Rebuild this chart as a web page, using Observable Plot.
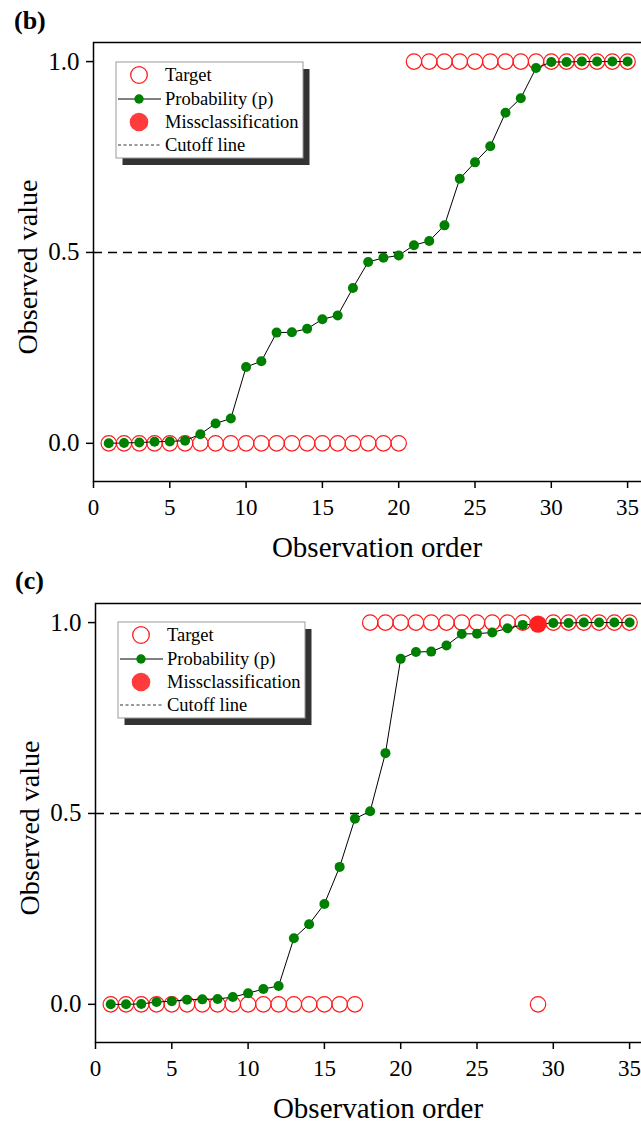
<!DOCTYPE html>
<html>
<head>
<meta charset="utf-8">
<script src="https://cdn.jsdelivr.net/npm/d3@7"></script>
<script src="https://cdn.jsdelivr.net/npm/@observablehq/plot@0.6"></script>
<style>
  html, body { margin: 0; padding: 0; background: #fff; }
  body { width: 641px; height: 1128px; overflow: hidden; position: relative; font-family: "Liberation Serif", serif; }
  .panel { position: absolute; left: 0; width: 660px; }
  .panel svg { max-width: none !important; }
  svg text { font-family: "Liberation Serif", serif !important; }
  #overlay { position: absolute; left: 0; top: 0; }
</style>
</head>
<body>
<div id="panelB" class="panel" style="top:0px"></div>
<div id="panelC" class="panel" style="top:561px"></div>
<svg id="overlay" width="641" height="1128"></svg>
<script>
// ---------- data ----------
const obsOrder = [1,2,3,4,5,6,7,8,9,10,11,12,13,14,15,16,17,18,19,20,21,22,23,24,25,26,27,28,29,30,31,32,33,34,35];

// Panel (b)
const targetB = [0,0,0,0,0,0,0,0,0,0,0,0,0,0,0,0,0,0,0,0,1,1,1,1,1,1,1,1,1,1,1,1,1,1,1];
const probB = [0.000,0.001,0.002,0.004,0.005,0.007,0.024,0.052,0.065,0.200,0.215,0.290,0.291,0.300,0.325,0.335,0.407,0.475,0.486,0.492,0.519,0.530,0.571,0.693,0.736,0.778,0.866,0.904,0.983,0.999,0.999,1.000,1.000,1.000,1.000];
const missOrderB = [];
const missValueB = [];

// Panel (c)
const targetC = [0,0,0,0,0,0,0,0,0,0,0,0,0,0,0,0,0,1,1,1,1,1,1,1,1,1,1,1,0,1,1,1,1,1,1];
const probC = [0.000,0.000,0.001,0.006,0.008,0.012,0.013,0.014,0.019,0.029,0.040,0.048,0.173,0.210,0.263,0.360,0.486,0.506,0.658,0.905,0.923,0.924,0.940,0.970,0.971,0.974,0.985,0.994,0.996,0.999,0.999,1.000,1.000,1.000,1.000];
const missOrderC = [29];
const missValueC = [0.996];

const cutoff = [0.5];
const xTicks = [0,5,10,15,20,25,30,35];
const yTicks = [0.0,0.5,1.0];
const xLabel = "Observation order";
const yLabel = "Observed value";
const legendLabels = ["Target","Probability (p)","Missclassification","Cutoff line"];
const panelLabels = ["(b)","(c)"];

// ---------- chart ----------
function makePanel(target, prob, missX, missY, marginLeft) {
  const rows = obsOrder.map((o, i) => ({o, t: target[i], p: prob[i]}));
  const miss = missX.map((o, i) => ({o, v: missY[i]}));
  const width = 660;
  const pxPerUnit = 15.26;
  const xMax = (width - marginLeft) / pxPerUnit;
  return Plot.plot({
    width,
    height: 566,
    marginLeft,
    marginRight: 0,
    marginTop: 42,
    marginBottom: 85,
    style: {fontFamily: "Liberation Serif, serif", color: "black", background: "transparent", overflow: "visible", maxWidth: "none"},
    x: {domain: [0, xMax]},
    y: {domain: [-0.1, 1.05]},
    marks: [
      Plot.ruleY(cutoff, {stroke: "black", strokeWidth: 1.5, strokeDasharray: "9,6"}),
      Plot.dot(rows, {x: "o", y: "t", r: 7.7, stroke: "#ff1a1a", strokeWidth: 1.2, fill: "none"}),
      Plot.line(rows, {x: "o", y: "p", stroke: "black", strokeWidth: 1}),
      Plot.dot(rows, {x: "o", y: "p", r: 5, fill: "#008000", stroke: "none"}),
      Plot.dot(miss, {x: "o", y: "v", r: 8.7, fill: "#ff2020", stroke: "none"}),
      Plot.frame({stroke: "black", strokeWidth: 1.5}),
      Plot.axisX({ticks: xTicks, tickSize: 7, tickPadding: 10, fontSize: 23, strokeWidth: 1.5, label: null, tickFormat: d3.format("d")}),
      Plot.axisY({ticks: yTicks, tickSize: 7, tickPadding: 7, fontSize: 25, strokeWidth: 1.5, label: null, tickFormat: d3.format(".1f")}),
      Plot.text([xLabel], {frameAnchor: "bottom", dy: 66, fontSize: 29, fill: "black", textAnchor: "middle", lineAnchor: "middle"}),
      Plot.text([yLabel], {frameAnchor: "left", dx: -65, dy: 5, rotate: -90, fontSize: 28, fill: "black", textAnchor: "middle", lineAnchor: "middle"})
    ]
  });
}

document.getElementById("panelB").append(makePanel(targetB, probB, missOrderB, missValueB, 93));
document.getElementById("panelC").append(makePanel(targetC, probC, missOrderC, missValueC, 95));

// ---------- overlay: panel labels and legends ----------
const svg = d3.select("#overlay").style("font-family", "Liberation Serif, serif");
svg.append("text").attr("x", 14).attr("y", 29).attr("font-size", 26).attr("font-weight", "bold").text(panelLabels[0]);
svg.append("text").attr("x", 15).attr("y", 589).attr("font-size", 26).attr("font-weight", "bold").text(panelLabels[1]);

function legend(ox, oy) {
  const g = svg.append("g").attr("transform", `translate(${ox},${oy})`);
  const w = 187, h = 96;
  g.append("rect").attr("x", 6.5).attr("y", 7).attr("width", w).attr("height", h).attr("fill", "#333");
  g.append("rect").attr("x", 0).attr("y", 0).attr("width", w).attr("height", h).attr("fill", "white").attr("stroke", "#999").attr("stroke-width", 1);
  const rowsY = [13, 37, 60, 83];
  g.append("circle").attr("cx", 23).attr("cy", rowsY[0]).attr("r", 8.3).attr("fill", "white").attr("stroke", "#ff1a1a").attr("stroke-width", 1.3);
  g.append("line").attr("x1", 2).attr("x2", 45).attr("y1", rowsY[1]).attr("y2", rowsY[1]).attr("stroke", "black").attr("stroke-width", 1);
  g.append("circle").attr("cx", 23).attr("cy", rowsY[1]).attr("r", 4.7).attr("fill", "#008000");
  g.append("circle").attr("cx", 23).attr("cy", rowsY[2]).attr("r", 9.3).attr("fill", "#ff3b3b");
  g.append("line").attr("x1", 2).attr("x2", 45).attr("y1", rowsY[3]).attr("y2", rowsY[3]).attr("stroke", "#333").attr("stroke-width", 1).attr("stroke-dasharray", "3,2.5");
  legendLabels.forEach((t, i) => {
    g.append("text").attr("x", 49).attr("y", rowsY[i] + 6).attr("font-size", 18.5).attr("fill", "black").text(t);
  });
}
legend(116, 62);
legend(118, 622);
</script>
</body>
</html>
